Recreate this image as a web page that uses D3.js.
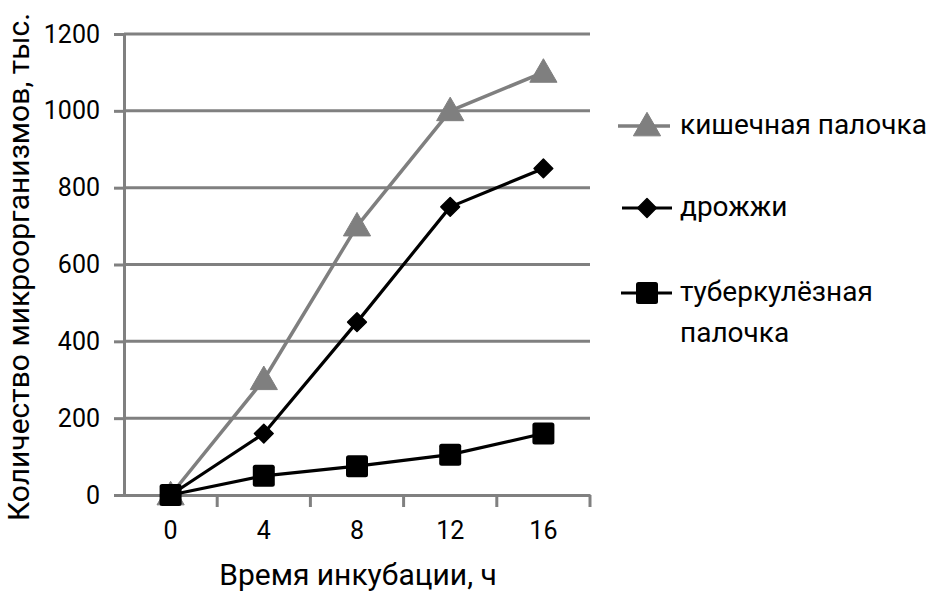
<!DOCTYPE html>
<html><head><meta charset="utf-8">
<script src="https://cdn.jsdelivr.net/npm/d3@7"></script>
<style>body{margin:0;background:#fff}svg{display:block}svg text{font-family:Roboto,"Noto Sans",sans-serif}</style>
</head><body>
<svg id="c" width="928" height="597"></svg>
<script>
const categories = ["0","4","8","12","16"];
const ecoli = [0, 300, 700, 1000, 1100];
const yeast = [0, 160, 450, 750, 850];
const tuber = [0, 50, 75, 105, 160];
const yTicks = [0, 200, 400, 600, 800, 1000, 1200];
const seriesNames = ["кишечная палочка", "дрожжи", ["туберкулёзная", "палочка"]];
const xTitle = "Время инкубации, ч";
const yTitle = "Количество микроорганизмов, тыс.";

(function(){
const svg = d3.select("#c");
const pL = 124, pR = 590, pT = 34, pB = 495;
const x = d3.scaleBand().domain(categories).range([pL, pR]);
const y = d3.scaleLinear().domain([0, 1200]).range([pB, pT]);
const grid = "#808080";
const FF = "Roboto";

svg.append("g").selectAll("line").data(yTicks.filter(d=>d>0)).join("line")
  .attr("x1", pL).attr("x2", pR).attr("y1", d=>y(d)).attr("y2", d=>y(d))
  .attr("stroke", grid).attr("stroke-width", 3);

const ya = svg.append("g").attr("transform", `translate(${pL},0)`)
  .call(d3.axisLeft(y).tickValues(yTicks).tickFormat(d3.format("d")).tickSize(10).tickPadding(14));
ya.attr("font-family", FF);
ya.select(".domain").attr("stroke", grid).attr("stroke-width", 3);
ya.selectAll(".tick line").attr("stroke", grid).attr("stroke-width", 3);
ya.selectAll(".tick text").attr("font-size", 25).attr("fill", "#000");

const xa = svg.append("g").attr("transform", `translate(0,${pB})`)
  .call(d3.axisBottom(x).tickSize(0).tickPadding(26));
xa.attr("font-family", FF);
xa.select(".domain").attr("stroke", grid).attr("stroke-width", 3);
xa.selectAll(".tick text").attr("font-size", 25).attr("fill", "#000");
const bounds = categories.map(c => x(c) + x.bandwidth());
svg.append("g").selectAll("line").data(bounds).join("line")
  .attr("x1", d=>d).attr("x2", d=>d).attr("y1", pB).attr("y2", pB+12)
  .attr("stroke", grid).attr("stroke-width", 3);

svg.append("text").attr("x", 358).attr("y", 585).attr("text-anchor","middle")
  .attr("font-size", 30).text(xTitle);
svg.append("text").attr("transform", `translate(29,267) rotate(-90)`)
  .attr("text-anchor","middle").attr("font-size", 30).text(yTitle);

const cx = c => x(c) + x.bandwidth()/2;
const line = d3.line().x((d,i)=>cx(categories[i])).y(d=>y(d));

const tri = d3.symbol().type(d3.symbolTriangle).size(320);
const dia = d3.symbol().type(d3.symbolSquare).size(175);

function drawSeries(vals, color, width, marker) {
  const g = svg.append("g");
  g.append("path").datum(vals).attr("d", line).attr("fill","none")
    .attr("stroke", color).attr("stroke-width", width).attr("stroke-linejoin","round");
  vals.forEach((v,i) => marker(g, cx(categories[i]), y(v)));
}
function mTri(g, px, py){ g.append("path").attr("d", tri()).attr("transform", `translate(${px},${py+2})`).attr("fill", "#7f7f7f").attr("stroke","#7f7f7f").attr("stroke-width",1).attr("stroke-linejoin","round"); }
function mDia(g, px, py){ g.append("path").attr("d", dia()).attr("transform", `translate(${px},${py}) rotate(45)`).attr("fill", "#000").attr("stroke","#000").attr("stroke-width",1.5).attr("stroke-linejoin","round"); }
function mSq(g, px, py){ g.append("rect").attr("x", px-11).attr("y", py-11).attr("width",22).attr("height",22).attr("rx",2.5).attr("fill","#000"); }

drawSeries(ecoli, "#7f7f7f", 3.5, mTri);
drawSeries(yeast, "#000", 3.2, mDia);
drawSeries(tuber, "#000", 3.2, mSq);

const lg = svg.append("g");
const items = [
  {y:126, color:"#7f7f7f", w:3.5, m:mTri, name:seriesNames[0], x1:618, x2:670},
  {y:208, color:"#000", w:3.2, m:mDia, name:seriesNames[1], x1:622, x2:672},
  {y:293, color:"#000", w:3.2, m:mSq, name:seriesNames[2], x1:621, x2:672}
];
items.forEach(it => {
  lg.append("line").attr("x1", it.x1).attr("x2", it.x2).attr("y1", it.y).attr("y2", it.y)
    .attr("stroke", it.color).attr("stroke-width", it.w);
  it.m(lg, 647, it.y);
  const t = lg.append("text").attr("x", 680).attr("y", it.y + 8).attr("font-size", 28);
  if (Array.isArray(it.name)) {
    t.append("tspan").attr("x", 680).text(it.name[0]);
    t.append("tspan").attr("x", 680).attr("dy", 41).text(it.name[1]);
  } else t.text(it.name);
});
})();
</script>
</body></html>
